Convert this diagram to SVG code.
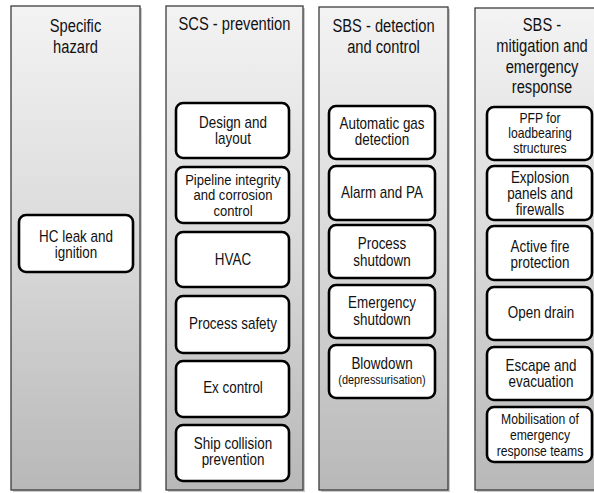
<svg xmlns="http://www.w3.org/2000/svg" width="594" height="493" viewBox="0 0 594 493">
  <defs>
    <linearGradient id="colFill" x1="0" y1="0" x2="0" y2="1">
      <stop offset="0" stop-color="#f3f3f3"/>
      <stop offset="0.5" stop-color="#d9d9d9"/>
      <stop offset="1" stop-color="#b8b8b8"/>
    </linearGradient>
    <style>
      .col { fill: url(#colFill); stroke: #3c3c3c; stroke-width: 1.3; }
      .shadow { fill: #8a8a8a; opacity: 0.45; }
      .box { fill: #ffffff; stroke: #000000; stroke-width: 2.6; }
      text { font-family: "Liberation Sans", Arial, sans-serif; fill: #111111; text-anchor: middle; }
      .h { font-size: 17.5px; }
      .t { font-size: 16px; }
      .tm { font-size: 15px; }
      .s { font-size: 14.5px; }
      .xs { font-size: 13px; }
    </style>
  </defs>
  <rect width="594" height="493" fill="#ffffff"/>

  <!-- column panels -->
  <g id="columns">
    <rect class="shadow" x="13" y="8" width="129" height="484"/>
    <rect class="col" x="11" y="6" width="129" height="484"/>
    <rect class="shadow" x="168" y="8" width="137" height="484"/>
    <rect class="col" x="166" y="6" width="137" height="484"/>
    <rect class="shadow" x="321" y="9" width="129" height="483"/>
    <rect class="col" x="319" y="7" width="129" height="483"/>
    <rect class="shadow" x="477" y="10" width="134" height="482"/>
    <rect class="col" x="475" y="8" width="134" height="482"/>
  </g>

  <!-- column headings -->
  <g id="headings">
    <text class="h" transform="translate(75.5,0) scale(0.84,1)"><tspan x="0" y="32">Specific</tspan><tspan x="0" y="53">hazard</tspan></text>
    <text class="h" transform="translate(234.5,0) scale(0.84,1)"><tspan x="0" y="30">SCS - prevention</tspan></text>
    <text class="h" transform="translate(383.5,0) scale(0.84,1)"><tspan x="0" y="32">SBS - detection</tspan><tspan x="0" y="53">and  control</tspan></text>
    <text class="h" transform="translate(542,0) scale(0.84,1)"><tspan x="0" y="31">SBS -</tspan><tspan x="0" y="52">mitigation  and</tspan><tspan x="0" y="73">emergency</tspan><tspan x="0" y="93">response</tspan></text>
  </g>

  <!-- specific hazard -->
  <g id="hc-leak">
    <rect class="box" x="19" y="215" width="114" height="57" rx="7"/>
    <text class="t" transform="translate(76,0) scale(0.84,1)"><tspan x="0" y="242">HC leak and</tspan><tspan x="0" y="258">ignition</tspan></text>
  </g>

  <!-- SCS - prevention -->
  <g id="design-layout">
    <rect class="box" x="176" y="103" width="113" height="55" rx="7"/>
    <text class="t" transform="translate(233,0) scale(0.84,1)"><tspan x="0" y="128">Design and</tspan><tspan x="0" y="144">layout</tspan></text>
  </g>
  <g id="pipeline-integrity">
    <rect class="box" x="176" y="167" width="113" height="56" rx="7"/>
    <text class="tm" transform="translate(233,0) scale(0.87,1)"><tspan x="0" y="185">Pipeline integrity</tspan><tspan x="0" y="200.5">and corrosion</tspan><tspan x="0" y="216">control</tspan></text>
  </g>
  <g id="hvac">
    <rect class="box" x="176" y="232" width="113" height="55" rx="7"/>
    <text class="t" transform="translate(233,0) scale(0.84,1)"><tspan x="0" y="265">HVAC</tspan></text>
  </g>
  <g id="process-safety">
    <rect class="box" x="176" y="296" width="113" height="57" rx="7"/>
    <text class="t" transform="translate(233,0) scale(0.84,1)"><tspan x="0" y="329">Process safety</tspan></text>
  </g>
  <g id="ex-control">
    <rect class="box" x="176" y="361" width="113" height="56" rx="7"/>
    <text class="t" transform="translate(233,0) scale(0.84,1)"><tspan x="0" y="393">Ex control</tspan></text>
  </g>
  <g id="ship-collision">
    <rect class="box" x="176" y="425" width="113" height="56" rx="7"/>
    <text class="t" transform="translate(233,0) scale(0.84,1)"><tspan x="0" y="449">Ship collision</tspan><tspan x="0" y="465">prevention</tspan></text>
  </g>

  <!-- SBS - detection and control -->
  <g id="gas-detection">
    <rect class="box" x="329" y="106" width="106" height="53" rx="7"/>
    <text class="t" transform="translate(382,0) scale(0.84,1)"><tspan x="0" y="129">Automatic gas</tspan><tspan x="0" y="145">detection</tspan></text>
  </g>
  <g id="alarm-pa">
    <rect class="box" x="329" y="166" width="106" height="54" rx="7"/>
    <text class="t" transform="translate(382,0) scale(0.84,1)"><tspan x="0" y="198">Alarm and PA</tspan></text>
  </g>
  <g id="process-shutdown">
    <rect class="box" x="329" y="225" width="106" height="53" rx="7"/>
    <text class="t" transform="translate(382,0) scale(0.84,1)"><tspan x="0" y="249">Process</tspan><tspan x="0" y="266">shutdown</tspan></text>
  </g>
  <g id="emergency-shutdown">
    <rect class="box" x="329" y="285" width="106" height="53" rx="7"/>
    <text class="t" transform="translate(382,0) scale(0.84,1)"><tspan x="0" y="308">Emergency</tspan><tspan x="0" y="325">shutdown</tspan></text>
  </g>
  <g id="blowdown">
    <rect class="box" x="329" y="345" width="106" height="53" rx="7"/>
    <text transform="translate(382,0) scale(0.84,1)"><tspan class="t" x="0" y="369">Blowdown</tspan><tspan class="xs" x="0" y="384">(depressurisation)</tspan></text>
  </g>

  <!-- SBS - mitigation and emergency response -->
  <g id="pfp">
    <rect class="box" x="487" y="107" width="105" height="53" rx="7"/>
    <text class="s" transform="translate(540,0) scale(0.84,1)"><tspan x="0" y="123">PFP for</tspan><tspan x="0" y="138">loadbearing</tspan><tspan x="0" y="153">structures</tspan></text>
  </g>
  <g id="explosion-panels">
    <rect class="box" x="487" y="166" width="105" height="54" rx="7"/>
    <text class="t" transform="translate(540,0) scale(0.84,1)"><tspan x="0" y="183">Explosion</tspan><tspan x="0" y="199">panels and</tspan><tspan x="0" y="215">firewalls</tspan></text>
  </g>
  <g id="active-fire">
    <rect class="box" x="487" y="226" width="105" height="54" rx="7"/>
    <text class="t" transform="translate(540,0) scale(0.84,1)"><tspan x="0" y="252">Active fire</tspan><tspan x="0" y="268">protection</tspan></text>
  </g>
  <g id="open-drain">
    <rect class="box" x="487" y="287" width="105" height="53" rx="7"/>
    <text class="t" transform="translate(541,0) scale(0.84,1)"><tspan x="0" y="318">Open drain</tspan></text>
  </g>
  <g id="escape">
    <rect class="box" x="487" y="347" width="105" height="53" rx="7"/>
    <text class="t" transform="translate(541,0) scale(0.84,1)"><tspan x="0" y="371">Escape and</tspan><tspan x="0" y="387">evacuation</tspan></text>
  </g>
  <g id="mobilisation">
    <rect class="box" x="487" y="407" width="105" height="55" rx="7"/>
    <text class="s" transform="translate(540,0) scale(0.84,1)"><tspan x="0" y="424">Mobilisation of</tspan><tspan x="0" y="440">emergency</tspan><tspan x="0" y="456">response teams</tspan></text>
  </g>

  <!-- no connectors in this layout -->
  <g id="connectors"/>
</svg>
